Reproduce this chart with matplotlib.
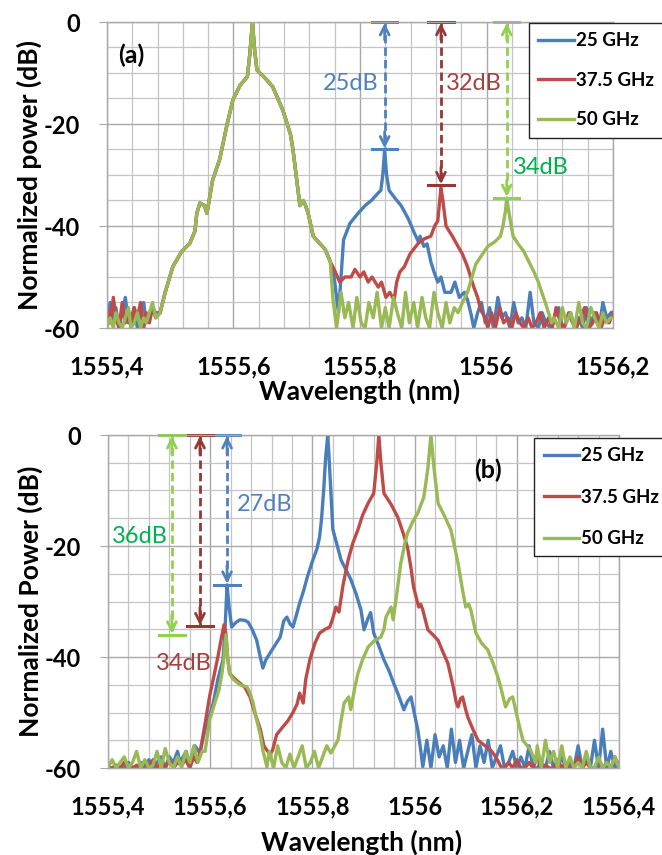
import numpy as np
import matplotlib
matplotlib.use('Agg')
import matplotlib.pyplot as plt

plt.rcParams['font.family'] = ['Lato', 'DejaVu Sans']
plt.rcParams['axes.unicode_minus'] = False

# ---------------- panel (a) data ----------------
# shared main carrier lobe
a_main_wl = [1555.484, 1555.492, 1555.504, 1555.518, 1555.531, 1555.539, 1555.542, 1555.547,
             1555.554, 1555.558, 1555.567, 1555.578, 1555.590, 1555.599, 1555.610, 1555.622,
             1555.626, 1555.630, 1555.633, 1555.637, 1555.650, 1555.662, 1555.678, 1555.690,
             1555.694, 1555.700, 1555.705, 1555.710, 1555.714, 1555.718, 1555.726, 1555.737,
             1555.745, 1555.753]
a_main_db = [-57, -53, -48, -45, -43.4, -41, -37.5, -35.5,
             -36, -37.5, -31, -27, -20, -15.3, -12.5, -10.7,
             -6, 0, -5, -9.4, -11, -12.7, -17.3, -22,
             -25, -31, -36, -35, -36, -37.5, -42, -43.5,
             -44.6, -47]

a_left_wl = [1555.400, 1555.405, 1555.410, 1555.414, 1555.419, 1555.424, 1555.429, 1555.434,
             1555.438, 1555.443, 1555.448, 1555.453, 1555.458, 1555.462, 1555.467, 1555.472,
             1555.477]
a_blue_left = [-58, -55, -59, -56, -60, -57, -54, -59, -58, -56, -60, -57, -55, -59, -58, -56, -57]
a_red_left = [-56, -59, -54, -58, -60, -55, -59, -57, -60, -56, -58, -55, -60, -57, -59, -56, -58]
a_green_left = [-60, -58, -60, -57, -59, -60, -58, -56, -60, -59, -57, -60, -58, -59, -57, -55, -58]

# 25 GHz sideband
a_blue_wl = [1555.759, 1555.766, 1555.770, 1555.774, 1555.784, 1555.797, 1555.808, 1555.818,
             1555.829, 1555.833, 1555.836, 1555.839, 1555.842, 1555.846, 1555.855, 1555.865,
             1555.876, 1555.886, 1555.892, 1555.895, 1555.901, 1555.906, 1555.912, 1555.917,
             1555.923, 1555.928, 1555.934, 1555.944, 1555.950, 1555.957, 1555.965, 1555.970,
             1555.975, 1555.980,
             1555.986, 1555.992, 1555.998, 1556.005, 1556.011, 1556.018, 1556.024, 1556.030,
             1556.037, 1556.043, 1556.050, 1556.056, 1556.062, 1556.069, 1556.075, 1556.082,
             1556.088, 1556.094, 1556.101, 1556.107, 1556.114, 1556.120, 1556.126, 1556.133,
             1556.139, 1556.146, 1556.152, 1556.158, 1556.165, 1556.171, 1556.178, 1556.184,
             1556.190, 1556.197]
a_blue_db = [-50, -57, -50, -42.7, -39.5, -37.5, -36, -35,
             -33.5, -33, -30, -25, -30, -33, -34.5, -36,
             -38.5, -41.4, -43, -42, -44, -43.5, -47, -49,
             -51, -50, -53, -53, -51, -54, -53, -54.5,
             -57, -60,
             -57, -55, -59, -56, -60, -54, -58, -57,
             -60, -55, -59, -58, -60, -53, -59, -60,
             -57, -59, -60, -58, -56, -60, -59, -57,
             -60, -58, -60, -56, -59, -57, -60, -55,
             -58, -57]

# 37.5 GHz sideband
a_red_wl = [1555.761, 1555.768, 1555.776, 1555.786, 1555.792, 1555.800, 1555.806, 1555.813,
            1555.819, 1555.829, 1555.834, 1555.841, 1555.847, 1555.854, 1555.858, 1555.863,
            1555.870, 1555.879, 1555.892, 1555.902, 1555.912, 1555.918, 1555.923, 1555.926,
            1555.928, 1555.931, 1555.936, 1555.946, 1555.955, 1555.962, 1555.970, 1555.975,
            1555.980, 1555.986, 1555.991, 1555.998, 1556.002,
            1556.008, 1556.014, 1556.021, 1556.027, 1556.034, 1556.040, 1556.046, 1556.053,
            1556.059, 1556.066, 1556.072, 1556.078, 1556.085, 1556.091, 1556.098, 1556.104,
            1556.110, 1556.117, 1556.123, 1556.130, 1556.136, 1556.142, 1556.149, 1556.155,
            1556.162, 1556.168, 1556.174, 1556.181, 1556.187, 1556.194, 1556.200]
a_red_db = [-49, -51, -50, -50, -48.5, -50, -49, -51,
            -50, -52, -51, -54, -53, -54.5, -51, -49,
            -48, -45.5, -43.4, -42.5, -42, -40, -39, -35,
            -32.5, -35, -40, -42, -44, -45.5, -48, -50,
            -52, -54, -56.5, -58, -60,
            -57, -60, -56, -59, -58, -60, -57, -59,
            -60, -58, -60, -59, -57, -60, -58, -60,
            -56, -59, -60, -57, -59, -60, -58, -56,
            -60, -59, -57, -60, -58, -59, -57]

# 50 GHz sideband
a_green_wl = [1555.757, 1555.763, 1555.770, 1555.776, 1555.782, 1555.789, 1555.795, 1555.802,
              1555.808, 1555.814, 1555.821, 1555.827, 1555.834, 1555.840, 1555.846, 1555.853,
              1555.859, 1555.866, 1555.872, 1555.878, 1555.885, 1555.891, 1555.898, 1555.904,
              1555.910, 1555.917, 1555.923, 1555.930, 1555.936, 1555.942, 1555.949, 1555.955,
              1555.962, 1555.970, 1555.977, 1555.983, 1555.991, 1556.002, 1556.014, 1556.022,
              1556.026, 1556.030, 1556.032, 1556.035, 1556.042, 1556.050, 1556.059, 1556.067,
              1556.075, 1556.082, 1556.086, 1556.093, 1556.098, 1556.103,
              1556.107, 1556.114, 1556.120, 1556.126, 1556.133, 1556.139, 1556.146, 1556.152,
              1556.158, 1556.165, 1556.171, 1556.178, 1556.184, 1556.190, 1556.197]
a_green_db = [-54, -60, -53, -58, -55, -60, -54, -59,
              -60, -55, -58, -53, -60, -56, -60, -54,
              -57, -60, -53, -59, -55, -60, -54, -58,
              -60, -53, -57, -60, -55, -59, -56, -57,
              -55, -53, -50, -47.5, -46, -44, -43, -42,
              -40, -37, -34.5, -37, -42, -43.5, -45, -47,
              -49, -51, -52.5, -55, -57, -59,
              -58, -60, -56, -59, -57, -60, -55, -59,
              -60, -56, -58, -60, -57, -59, -58]

# ---------------- panel (b) data ----------------
b_left_wl = [1555.400, 1555.408, 1555.416, 1555.424, 1555.432, 1555.440, 1555.448, 1555.456,
             1555.464, 1555.472, 1555.480, 1555.488, 1555.496, 1555.504, 1555.512, 1555.520,
             1555.528, 1555.536]
b_blue_left = [-60, -60, -59.5, -60, -60, -59, -60, -60, -59, -60, -58.5, -60, -59, -58, -60, -58, -59, -57]
b_red_left = [-60, -60, -59.5, -60, -59, -60, -60, -59.5, -60, -59, -60, -58.5, -60, -59, -60, -58.5, -60, -59]
b_green_left = [-60, -58.5, -60, -59, -58, -60, -59, -57, -60, -58.5, -60, -59.5, -57, -60, -56.5, -59, -60, -58]

b_blue_wl = [1555.541, 1555.553, 1555.560, 1555.570, 1555.580, 1555.590, 1555.599, 1555.606,
             1555.615, 1555.625, 1555.629, 1555.633, 1555.637, 1555.642, 1555.650, 1555.658,
             1555.668, 1555.674, 1555.682, 1555.691, 1555.698, 1555.703, 1555.709, 1555.717,
             1555.726, 1555.737, 1555.744, 1555.750, 1555.756, 1555.762, 1555.770, 1555.775,
             1555.783, 1555.790, 1555.801, 1555.809, 1555.814, 1555.818, 1555.822, 1555.826,
             1555.830, 1555.832, 1555.836, 1555.840, 1555.856, 1555.875, 1555.885, 1555.895,
             1555.901, 1555.909, 1555.914, 1555.920, 1555.930, 1555.940, 1555.950, 1555.959,
             1555.969, 1555.979, 1555.986, 1555.993, 1555.998, 1556.006, 1556.012, 1556.016,
             1556.024, 1556.032, 1556.040, 1556.048, 1556.056, 1556.064, 1556.072, 1556.080,
             1556.088, 1556.096, 1556.104, 1556.112, 1556.120, 1556.128, 1556.136, 1556.144,
             1556.152, 1556.160, 1556.168, 1556.176, 1556.184, 1556.192, 1556.200, 1556.208,
             1556.216, 1556.224, 1556.232, 1556.240, 1556.248, 1556.256, 1556.264, 1556.272,
             1556.280, 1556.288, 1556.296, 1556.304, 1556.312, 1556.320, 1556.328, 1556.336,
             1556.344, 1556.352, 1556.360, 1556.368, 1556.376, 1556.384, 1556.392, 1556.400]
b_blue_db = [-59, -57, -59.8, -56, -57.3, -53, -50.5, -48.3,
             -44, -40.5, -35, -27, -31, -34.6, -33.8, -33.3,
             -33.4, -33.7, -35, -37, -40, -42, -40.5, -39.3,
             -38, -36.4, -33.5, -32.8, -34, -34.6, -32, -30.3,
             -28, -25.6, -22.5, -20.5, -18.4, -15, -10, -4,
             0, -3, -10, -17, -22.5, -26, -28.5, -31.5,
             -35.1, -33, -32, -35.7, -38, -40.5, -42.5, -44.7,
             -47, -49.5, -48, -47.2, -49.5, -53, -56.8, -59.8,
             -55, -60, -54, -58, -56, -60, -53, -59,
             -55, -60, -57, -54, -60, -56, -59, -55,
             -60, -58, -56, -60, -59, -57, -60, -58,
             -60, -56, -60, -60, -59, -60, -57, -60,
             -60, -58, -60, -59, -60, -56, -60, -58,
             -60, -55, -60, -53, -60, -57, -60, -59]

b_red_wl = [1555.544, 1555.552, 1555.560, 1555.568, 1555.574,
            1555.580, 1555.590, 1555.599, 1555.606, 1555.615, 1555.621, 1555.627, 1555.631,
            1555.634, 1555.638, 1555.649, 1555.658, 1555.668, 1555.678, 1555.687, 1555.698,
            1555.705, 1555.711, 1555.717, 1555.722, 1555.730, 1555.742, 1555.752, 1555.762,
            1555.770, 1555.775, 1555.782, 1555.787, 1555.795, 1555.805, 1555.814, 1555.825,
            1555.834, 1555.840, 1555.846, 1555.852, 1555.860, 1555.870, 1555.879, 1555.889,
            1555.898, 1555.909, 1555.920, 1555.926, 1555.930, 1555.934, 1555.940, 1555.954,
            1555.967, 1555.977, 1555.986, 1555.993, 1555.998, 1556.008, 1556.012, 1556.016,
            1556.026, 1556.036, 1556.046, 1556.055, 1556.065, 1556.071, 1556.077, 1556.081,
            1556.085, 1556.090, 1556.094, 1556.100, 1556.104, 1556.114, 1556.124, 1556.138,
            1556.149, 1556.159, 1556.169,
            1556.176, 1556.184, 1556.192, 1556.200, 1556.208, 1556.216, 1556.224, 1556.232,
            1556.240, 1556.248, 1556.256, 1556.264, 1556.272, 1556.280, 1556.288, 1556.296,
            1556.304, 1556.312, 1556.320, 1556.328, 1556.336, 1556.344, 1556.352, 1556.360,
            1556.368, 1556.376, 1556.384, 1556.392, 1556.400]
b_red_db = [-59.5, -58.5, -60, -58, -59,
            -57.3, -52, -47, -44, -40, -37, -34.2, -36,
            -40, -43, -44, -44.7, -45.5, -47.2, -50, -53,
            -56, -56.8, -57.5, -56.8, -54, -52.6, -51.5, -50,
            -48.5, -46.5, -48.3, -44, -40.5, -37.5, -35.7, -35,
            -34.6, -33, -31, -31.9, -27, -22.5, -19.5, -17.1,
            -14.5, -12.3, -10.5, -5, 0, -5, -10.5, -12.5,
            -14.8, -17.5, -20.2, -24, -27.4, -31, -30.5, -31.5,
            -35.1, -36, -37, -39, -41.1, -43.5, -46, -48,
            -49, -47.5, -47.2, -49.5, -50.8, -53, -55, -56,
            -56.8, -58, -59.8,
            -60, -59, -60, -58.5, -60, -60, -59, -60,
            -58, -60, -59.5, -60, -60, -58.5, -60, -59,
            -60, -60, -58, -60, -59, -60, -60, -58.5,
            -60, -59, -60, -58, -60]

b_green_wl = [1555.544, 1555.552, 1555.560, 1555.568, 1555.576, 1555.584,
              1555.590, 1555.599, 1555.610, 1555.617, 1555.623, 1555.627, 1555.631, 1555.634,
              1555.638, 1555.645, 1555.658, 1555.672, 1555.678, 1555.684, 1555.690, 1555.698,
              1555.703, 1555.711,
              1555.716, 1555.724, 1555.732, 1555.740, 1555.748, 1555.756, 1555.764, 1555.772,
              1555.780, 1555.788, 1555.796, 1555.804, 1555.812, 1555.820, 1555.828,
              1555.836, 1555.844, 1555.850, 1555.856, 1555.862, 1555.871, 1555.875, 1555.883,
              1555.889, 1555.898, 1555.909, 1555.922, 1555.934, 1555.940, 1555.944, 1555.954,
              1555.958, 1555.966, 1555.973, 1555.981, 1555.986, 1555.997, 1556.006, 1556.018,
              1556.026, 1556.032, 1556.038, 1556.046, 1556.058, 1556.071, 1556.078, 1556.085,
              1556.093, 1556.100, 1556.106, 1556.110, 1556.120, 1556.131, 1556.143, 1556.153,
              1556.163, 1556.170, 1556.178, 1556.186, 1556.192, 1556.202, 1556.212, 1556.227,
              1556.237,
              1556.240, 1556.248, 1556.256, 1556.264, 1556.272, 1556.280, 1556.288, 1556.296,
              1556.304, 1556.312, 1556.320, 1556.328, 1556.336, 1556.344, 1556.352, 1556.360,
              1556.368, 1556.376, 1556.384, 1556.392, 1556.400]
b_green_db = [-60, -57, -59, -56, -59, -57,
              -57, -51.3, -48, -46, -43, -40, -36, -40,
              -43, -44, -45, -45.4, -46.5, -48.3, -51, -54,
              -56.8, -59.8,
              -57, -60, -56, -59, -60, -57.5, -60, -58,
              -56, -60, -59, -57, -60, -58, -56,
              -57.3, -56, -55, -51.5, -48.3, -47.2, -49.5, -45.5,
              -43, -40.5, -38.2, -37, -36.4, -35, -32.8, -31,
              -33.3, -28, -23.1, -19.5, -17.7, -15.5, -14.1, -11.2,
              -6, 0, -6, -12.3, -14.5, -17.1, -20, -23.1,
              -27.5, -31, -30.5, -31.5, -35.7, -37.5, -38.7, -41,
              -43.6, -46, -49, -47.5, -47.2, -51.3, -55, -56.8,
              -59,
              -56, -60, -55, -59, -57, -60, -56, -60,
              -58, -60, -59, -60, -57, -60, -60, -58,
              -60, -59, -60, -58, -60]

series_names = ['25 GHz', '37.5 GHz', '50 GHz']
series_colors = ['#4A7EBB', '#BE4B48', '#98B954']

# suppression markers: arrow wavelength, depth (dB), label and label position
a_arrow_wl = [1555.839, 1555.928, 1556.032]
a_arrow_db = [-25, -32, -34.5]
a_arrow_txt = ['25dB', '32dB', '34dB']
a_txt_wl = [1555.786, 1555.980, 1556.086]
a_txt_db = [-12, -12, -28.6]

b_arrow_wl = [1555.633, 1555.580, 1555.525]
b_arrow_db = [-27, -34.5, -36]
b_arrow_txt = ['27dB', '34dB', '36dB']
b_txt_wl = [1555.707, 1555.549, 1555.462]
b_txt_db = [-12.6, -41.1, -18.2]

arrow_colors = ['#4F81BD', '#953735', '#92D050']
text_colors = ['#4F81BD', '#A5403E', '#00B050']

a_ticks = [1555.4, 1555.6, 1555.8, 1556.0, 1556.2]
a_ticklabels = ['1555,4', '1555,6', '1555,8', '1556', '1556,2']
b_ticks = [1555.4, 1555.6, 1555.8, 1556.0, 1556.2, 1556.4]
b_ticklabels = ['1555,4', '1555,6', '1555,8', '1556', '1556,2', '1556,4']
y_ticks = [-60, -40, -20, 0]
y_ticklabels = ['-60', '-40', '-20', '0']


def style_axes(ax, xmax, ticks, labels, ylabel):
    ax.set_xlim(1555.4, xmax)
    ax.set_ylim(-60, 0)
    ax.set_xticks(ticks)
    ax.set_xticklabels(labels, fontweight='bold', fontsize=17)
    ax.set_xticks(np.arange(1555.4, xmax + 0.001, 0.04), minor=True)
    ax.set_yticks(y_ticks)
    ax.set_yticklabels(y_ticklabels, fontweight='bold', fontsize=17)
    ax.set_yticks(np.arange(-60, 1, 5), minor=True)
    ax.grid(which='major', color='#A8A8A8', lw=1.0)
    ax.grid(which='minor', color='#C4C4C4', lw=0.9)
    ax.set_axisbelow(True)
    for s in ax.spines.values():
        s.set_color('#A8A8A8')
        s.set_linewidth(1.0)
    ax.tick_params(axis='x', which='both', length=0, pad=20)
    ax.tick_params(axis='y', which='major', length=5.5, color='#A8A8A8', pad=14)
    ax.tick_params(axis='y', which='minor', length=0)
    ax.set_ylabel(ylabel, fontsize=19, fontweight='bold')
    ax.set_xlabel('Wavelength (nm)', fontsize=19, fontweight='bold')


def draw_arrow(ax, x, depth, color, cap):
    ax.plot([x, x], [0, depth], ls=(0, (3, 1.5)), color=color, lw=2, clip_on=False)
    ax.plot([x - cap / 2, x + cap / 2], [0, 0], color=color, lw=2.2, clip_on=False)
    ax.plot([x - cap / 2, x + cap / 2], [depth, depth], color=color, lw=2.2, clip_on=False)
    ax.annotate('', xy=(x, -0.2), xytext=(x, -3.5),
                arrowprops=dict(arrowstyle='->', color=color, lw=2, mutation_scale=16,
                                shrinkA=0, shrinkB=0))
    ax.annotate('', xy=(x, depth + 0.2), xytext=(x, depth + 3.5),
                arrowprops=dict(arrowstyle='->', color=color, lw=2, mutation_scale=16,
                                shrinkA=0, shrinkB=0))


def add_legend(ax, anchor, spacing):
    leg = ax.legend(loc='upper left', bbox_to_anchor=anchor, borderaxespad=0,
                    prop={'size': 13.5, 'weight': 'bold'},
                    handlelength=1.9, handletextpad=0.1, labelspacing=spacing,
                    borderpad=0.5, fancybox=False, framealpha=1, edgecolor='#222222')
    leg.get_frame().set_linewidth(1.0)


fig = plt.figure(figsize=(6.62, 8.55), dpi=100)

# ---------------- panel (a) ----------------
ax1 = fig.add_axes([107 / 662, 1 - 328 / 855, 506 / 662, 306 / 855])
a_wl = [a_left_wl + a_main_wl + a_blue_wl,
        a_left_wl + a_main_wl + a_red_wl,
        a_left_wl + a_main_wl + a_green_wl]
a_db = [a_blue_left + a_main_db + a_blue_db,
        a_red_left + a_main_db + a_red_db,
        a_green_left + a_main_db + a_green_db]
for wl, db, name, c in zip(a_wl, a_db, series_names, series_colors):
    ax1.plot(wl, db, color=c, lw=2.4, label=name)
style_axes(ax1, 1556.2, a_ticks, a_ticklabels, 'Normalized power (dB)')
ax1.yaxis.set_label_coords(-0.128, 0.5)
ax1.xaxis.set_label_coords(0.5, -0.165)

for x, d, txt, tx, ty, ac, tc in zip(a_arrow_wl, a_arrow_db, a_arrow_txt, a_txt_wl, a_txt_db,
                                     arrow_colors, text_colors):
    draw_arrow(ax1, x, d, ac, 0.04)
    ax1.text(tx, ty, txt, color=tc, fontsize=17, ha='center', va='center')
ax1.text(1555.438, -6.5, '(a)', fontsize=18, fontweight='bold', ha='center', va='center')
add_legend(ax1, (0.834, 0.997), 1.2)

# ---------------- panel (b) ----------------
ax2 = fig.add_axes([108 / 662, 1 - 768 / 855, 511 / 662, 333 / 855])
b_wl = [b_left_wl + b_blue_wl, b_left_wl + b_red_wl, b_left_wl + b_green_wl]
b_db = [b_blue_left + b_blue_db, b_red_left + b_red_db, b_green_left + b_green_db]
for wl, db, name, c in zip(b_wl, b_db, series_names, series_colors):
    ax2.plot(wl, db, color=c, lw=2.4, label=name)
style_axes(ax2, 1556.4, b_ticks, b_ticklabels, 'Normalized Power (dB)')
ax2.yaxis.set_label_coords(-0.128, 0.5)
ax2.xaxis.set_label_coords(0.497, -0.185)

for x, d, txt, tx, ty, ac, tc in zip(b_arrow_wl, b_arrow_db, b_arrow_txt, b_txt_wl, b_txt_db,
                                     arrow_colors, text_colors):
    draw_arrow(ax2, x, d, ac, 0.05)
    ax2.text(tx, ty, txt, color=tc, fontsize=17, ha='center', va='center')
ax2.text(1556.144, -6.3, '(b)', fontsize=18, fontweight='bold', ha='center', va='center')
add_legend(ax2, (0.834, 0.991), 1.3)

fig.savefig('out.png', dpi=100)
